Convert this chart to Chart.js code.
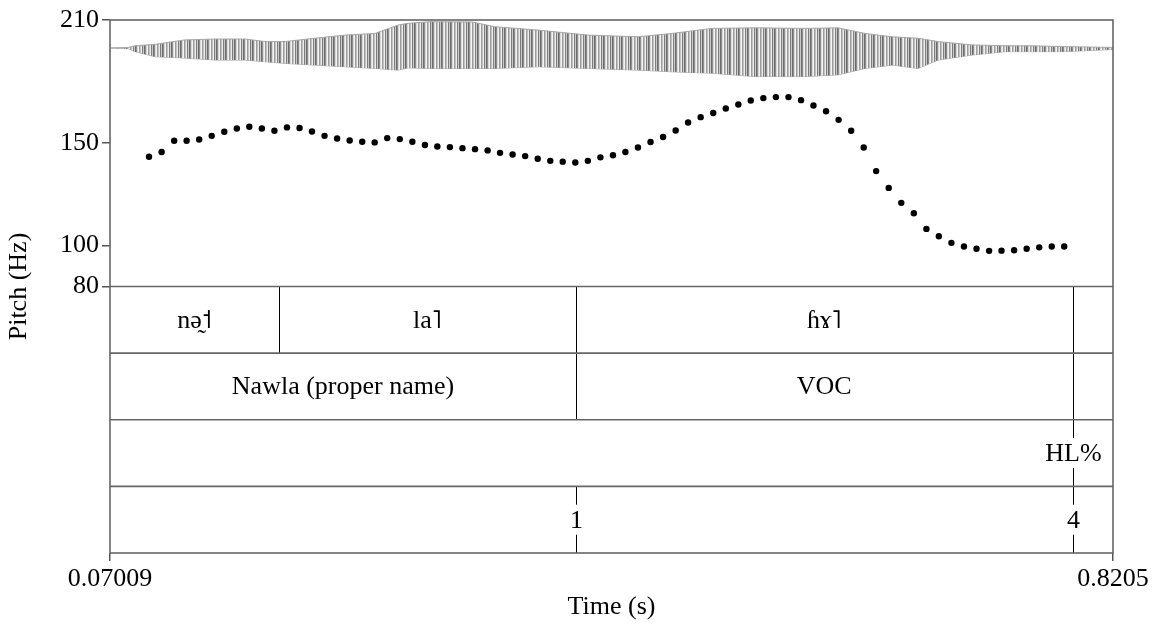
<!DOCTYPE html>
<html>
<head>
<meta charset="utf-8">
<script src="https://cdn.jsdelivr.net/npm/chart.js@4/dist/chart.umd.min.js"></script>
<style>
  html, body { margin: 0; padding: 0; background: #fff; }
  canvas { display: block; }
</style>
</head>
<body>
<canvas id="pitchChart" width="1154" height="624"></canvas>
<script>
const SERIF = '"Liberation Serif", "DejaVu Serif", serif';

// time axis (s)
const timeStart = 0.07009;
const timeEnd = 0.8205;
const timeTicks = [0.07009, 0.8205];
const pitchTicks = [80, 100, 150, 210];

// pitch track (s, Hz)
const pitchTimes = [
  0.0993, 0.1087, 0.1181, 0.1274, 0.1368, 0.1462, 0.1556, 0.1650, 0.1743, 0.1837,
  0.1931, 0.2025, 0.2119, 0.2212, 0.2306, 0.2400, 0.2494, 0.2588, 0.2681, 0.2775,
  0.2869, 0.2963, 0.3057, 0.3150, 0.3244, 0.3338, 0.3432, 0.3526, 0.3619, 0.3713,
  0.3807, 0.3901, 0.3995, 0.4088, 0.4182, 0.4276, 0.4370, 0.4464, 0.4557, 0.4651,
  0.4745, 0.4839, 0.4933, 0.5026, 0.5120, 0.5214, 0.5308, 0.5402, 0.5495, 0.5589,
  0.5683, 0.5777, 0.5871, 0.5964, 0.6058, 0.6152, 0.6246, 0.6340, 0.6433, 0.6527,
  0.6621, 0.6715, 0.6809, 0.6902, 0.6996, 0.7090, 0.7184, 0.7278, 0.7371, 0.7465,
  0.7559, 0.7653, 0.7747, 0.7840
];
const pitchHz = [
  143.3, 145.6, 151.1, 151.1, 151.7, 153.5, 155.5, 157.1, 157.9, 157.1,
  156.0, 157.6, 157.3, 155.6, 153.5, 152.2, 151.2, 150.6, 150.3, 152.4,
  151.9, 150.6, 149.0, 148.3, 148.0, 147.5, 147.0, 146.4, 145.2, 144.4,
  143.6, 142.3, 141.3, 140.9, 140.5, 141.3, 143.0, 144.0, 145.6, 147.8,
  150.5, 152.9, 156.1, 160.0, 162.6, 164.6, 166.8, 168.8, 170.7, 171.9,
  172.4, 172.4, 170.9, 168.3, 165.5, 161.3, 156.0, 147.8, 136.3, 128.1,
  120.8, 115.7, 108.1, 104.5, 101.3, 99.5, 98.4, 97.4, 97.5, 97.7,
  98.4, 99.1, 99.5, 99.5
];

// waveform envelope (s, relative amplitude above / below zero)
const waveTimes = [
  0.0701, 0.0836, 0.0888, 0.1038, 0.1262, 0.1487, 0.1711, 0.1861, 0.2010, 0.2235,
  0.2459, 0.2684, 0.2856, 0.2931, 0.3095, 0.3409, 0.3581, 0.3903, 0.4277, 0.4651,
  0.4906, 0.5205, 0.5527, 0.5901, 0.6148, 0.6350, 0.6552, 0.6746, 0.6896, 0.7150,
  0.7397, 0.7584, 0.7831, 0.8205
];
const waveMax = [
  0, 0.02, 0.08, 0.13, 0.29, 0.32, 0.32, 0.23, 0.23, 0.35,
  0.46, 0.52, 0.82, 0.88, 0.94, 0.93, 0.76, 0.64, 0.46, 0.40,
  0.52, 0.70, 0.72, 0.70, 0.72, 0.52, 0.40, 0.35, 0.23, 0.11,
  0.08, 0.08, 0.05, 0.02
];
const waveMin = [
  0, -0.02, -0.13, -0.31, -0.36, -0.43, -0.43, -0.49, -0.55, -0.61,
  -0.67, -0.73, -0.79, -0.71, -0.73, -0.73, -0.73, -0.67, -0.73, -0.79,
  -0.85, -0.90, -1.02, -1.02, -0.96, -0.73, -0.61, -0.73, -0.43, -0.25,
  -0.13, -0.13, -0.13, -0.05
];

// text grid tiers
const syllableBounds = [0.1965, 0.4187, 0.7902];
const syllableLabels = ["nə̰˦", "la˥", "ɦɤ˥", ""];
const wordBounds = [0.4187, 0.7902];
const wordLabels = ["Nawla (proper name)", "VOC", ""];
const toneTimes = [0.7902];
const toneLabels = ["HL%"];
const breakTimes = [0.4187, 0.7902];
const breakLabels = ["1", "4"];

const canvas = document.getElementById("pitchChart");
const ctx = canvas.getContext("2d");

// uneven vertical striping, reads like a dense oscillogram
function stripes() {
  const cols = ["#6c6c6c", "#8f8f8f", "#d9d9d9", "#f4f4f4", "#9c9c9c",
                "#c2c2c2", "#ececec", "#7e7e7e", "#cacaca"];
  const c = document.createElement("canvas");
  c.width = cols.length;
  c.height = 1;
  const g = c.getContext("2d");
  cols.forEach((col, i) => {
    g.fillStyle = col;
    g.fillRect(i, 0, 1, 1);
  });
  return ctx.createPattern(c, "repeat");
}

const textGrid = {
  id: "textGrid",
  afterDatasetsDraw(chart) {
    const { ctx, chartArea: a, scales: { x, y } } = chart;
    const top = y.getPixelForValue(80);
    const h = (a.bottom - top) / 4;
    const line = (x1, y1, x2, y2) => {
      ctx.beginPath();
      ctx.moveTo(x1, y1);
      ctx.lineTo(x2, y2);
      ctx.stroke();
    };

    ctx.save();
    ctx.font = "26px " + SERIF;
    ctx.fillStyle = "#000";
    ctx.textAlign = "center";
    ctx.textBaseline = "middle";

    const intervalTier = (row, bounds, labels) => {
      const y0 = top + row * h;
      const edges = [timeStart, ...bounds, timeEnd];
      ctx.strokeStyle = "#000";
      ctx.lineWidth = 1;
      bounds.forEach(b => {
        const px = Math.round(x.getPixelForValue(b)) + 0.5;
        line(px, y0, px, y0 + h);
      });
      labels.forEach((lab, i) => {
        const mid = (x.getPixelForValue(edges[i]) + x.getPixelForValue(edges[i + 1])) / 2;
        ctx.fillText(lab, mid, y0 + h / 2 + 1);
      });
    };

    const pointTier = (row, times, labels) => {
      const y0 = top + row * h;
      const cy = y0 + h / 2;
      ctx.strokeStyle = "#000";
      ctx.lineWidth = 1;
      times.forEach((t, i) => {
        const px = Math.round(x.getPixelForValue(t)) + 0.5;
        line(px, y0, px, cy - 15);
        line(px, cy + 15, px, y0 + h);
        ctx.fillText(labels[i], px, cy + 1);
      });
    };

    intervalTier(0, syllableBounds, syllableLabels);
    intervalTier(1, wordBounds, wordLabels);
    pointTier(2, toneTimes, toneLabels);
    pointTier(3, breakTimes, breakLabels);

    // outer frame and tier separators
    ctx.strokeStyle = "#666";
    ctx.lineWidth = 1.6;
    ctx.strokeRect(a.left, a.top, a.right - a.left, a.bottom - a.top);
    for (let i = 0; i < 4; i++) {
      line(a.left, top + i * h, a.right, top + i * h);
    }
    ctx.restore();
  }
};

const pattern = stripes();

new Chart(ctx, {
  type: "line",
  data: {
    datasets: [
      {
        label: "wave+",
        data: waveTimes.map((t, i) => ({ x: t, y: waveMax[i] })),
        yAxisID: "wave",
        borderColor: "#a6a6a6",
        borderWidth: 1,
        backgroundColor: pattern,
        fill: "+1",
        pointRadius: 0,
        tension: 0
      },
      {
        label: "wave-",
        data: waveTimes.map((t, i) => ({ x: t, y: waveMin[i] })),
        yAxisID: "wave",
        borderColor: "#a6a6a6",
        borderWidth: 1,
        fill: false,
        pointRadius: 0,
        tension: 0
      },
      {
        label: "Pitch",
        data: pitchTimes.map((t, i) => ({ x: t, y: pitchHz[i] })),
        yAxisID: "y",
        showLine: false,
        pointRadius: 3.2,
        pointBorderWidth: 0,
        pointBackgroundColor: "#000",
        borderColor: "#000"
      }
    ]
  },
  options: {
    responsive: false,
    animation: false,
    devicePixelRatio: 1,
    layout: { padding: { top: 20, right: 41, left: 0, bottom: 0 } },
    plugins: {
      legend: { display: false },
      tooltip: { enabled: false }
    },
    scales: {
      x: {
        type: "linear",
        position: "bottom",
        min: timeStart,
        max: timeEnd,
        afterBuildTicks: s => { s.ticks = timeTicks.map(v => ({ value: v })); },
        afterFit: s => { s.height = 71; },
        ticks: {
          autoSkip: false,
          maxRotation: 0,
          padding: 3,
          color: "#000",
          font: { family: SERIF, size: 26 },
          callback: v => String(v)
        },
        grid: { drawOnChartArea: false, tickLength: 8, color: "#555", lineWidth: 1.5 },
        border: { display: false },
        title: {
          display: true,
          text: "Time (s)",
          color: "#000",
          font: { family: SERIF, size: 26 },
          padding: { top: 0, bottom: 1 }
        }
      },
      y: {
        min: -50,
        max: 210,
        afterBuildTicks: s => { s.ticks = pitchTicks.map(v => ({ value: v })); },
        afterFit: s => { s.width = 110; },
        ticks: {
          padding: 3,
          color: "#000",
          font: { family: SERIF, size: 26 }
        },
        grid: { drawOnChartArea: false, tickLength: 8, color: "#555", lineWidth: 1.5 },
        border: { display: false },
        title: {
          display: true,
          text: "Pitch (Hz)",
          color: "#000",
          font: { family: SERIF, size: 26 },
          padding: { top: 4, bottom: 0 }
        }
      },
      wave: {
        axis: "y",
        display: false,
        min: -18.04,
        max: 1
      }
    }
  },
  plugins: [textGrid]
});
</script>
</body>
</html>
